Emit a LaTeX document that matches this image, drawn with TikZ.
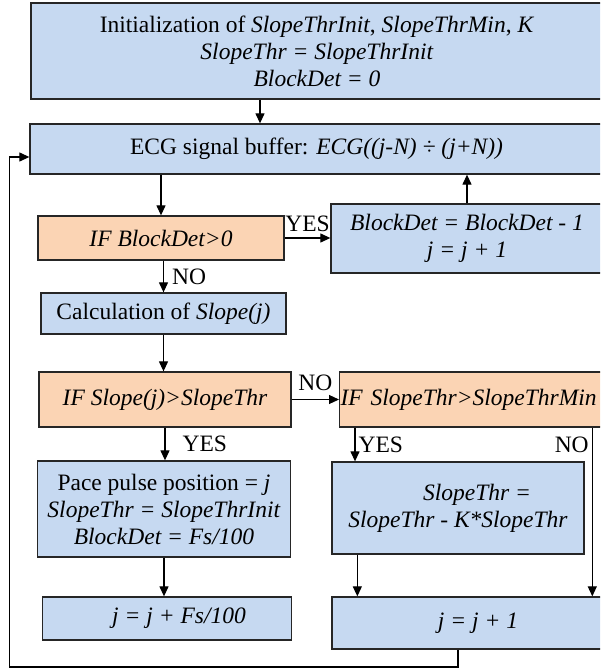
\documentclass[tikz,border=0pt]{standalone}
\usepackage{fontspec}
\setmainfont{Liberation Serif}
\usepackage{tikz}
\usetikzlibrary{arrows.meta,calc,positioning}
\definecolor{boxblue}{HTML}{C6D9F1}
\definecolor{boxpeach}{HTML}{FBD4B4}
\definecolor{edge}{HTML}{262626}
\tikzstyle{blk} = [rectangle, draw=edge, line width=1.3pt, fill=boxblue,
align=center, inner sep=1pt, font=\fontsize{23.5}{27}\selectfont]
\tikzstyle{cond} = [blk, fill=boxpeach]
\tikzstyle{arrow} = [line width=1.2pt,->]
\tikzstyle{lbl} = [font=\fontsize{23.5}{27}\selectfont, inner sep=2pt]
\tikzset{>={Triangle[length=10pt,width=9pt]}}

\begin{document}
\begin{tikzpicture}[x=1pt,y=-1pt]
            \clip (0,0) rectangle (600,669);
            \node[blk, minimum width=572, minimum height=96] (init) at (317,51)
            {Initialization of \textit{SlopeThrInit}, \textit{SlopeThrMin}, \textit{K}\\
            \textit{SlopeThr = SlopeThrInit}\\ \textit{BlockDet = 0}};
            \node[blk, minimum width=573, minimum height=50] (ecg) at (316.5,149)
            {ECG signal buffer: \textit{ECG((j-N) ÷ (j+N))}};
            \node[cond, minimum width=246, minimum height=44] (ifblk) at (161,238)
            {\textit{IF BlockDet>0}};
            \node[blk, minimum width=272, minimum height=69] (blkdec) at (467,238.5)
            {\textit{BlockDet = BlockDet - 1}\\ \textit{j = j + 1}};
            \node[blk, minimum width=245, minimum height=41] (calc) at (163.5,313.5)
            {Calculation of \textit{Slope(j)}};
            \node[cond, minimum width=252, minimum height=55] (ifslope) at (165,399.5)
            {\textit{IF Slope(j)>SlopeThr}};
            \node[cond, anchor=west, text width=266, align=left, minimum height=55] (ifthr) at (339,399.5)
            {\textit{IF SlopeThr>SlopeThrMin}};
            \node[blk, minimum width=253, minimum height=96] (pace) at (164,509)
            {Pace pulse position = \textit{j}\\ \textit{SlopeThr = SlopeThrInit}\\
            \textit{BlockDet = Fs/100}};
            \node[blk, minimum width=252, minimum height=92] (thrdec) at (458,508)
            {\hspace*{38pt}\textit{SlopeThr =}\\ \textit{SlopeThr - K*SlopeThr}};
            \node[blk, minimum width=249, minimum height=43] (jfs) at (167,618.5)
            {\hspace*{24pt}\textit{j = j + Fs/100}};
            \node[blk, minimum width=292, minimum height=52] (jinc) at (478,623)
            {\textit{j = j + 1}};
            \coordinate (loop) at (9.6,667);
            \draw [arrow] ([xshift=-57pt]init.south) -- ([xshift=-57pt]init.south |- ecg.north);
            \draw [arrow] (ecg.south -| ifblk.north) -- (ifblk.north);
            \draw [arrow] (ifblk.east) -- (ifblk.east -| blkdec.west)
            node[lbl, midway, above, yshift=4pt] {YES};
            \draw [arrow] (blkdec.north) -- (blkdec.north |- ecg.south);
            \draw [arrow] (ifblk.south -| calc.north) -- (calc.north)
            node[lbl, midway, right, xshift=6pt] {NO};
            \draw [arrow] (calc.south) -- (calc.south |- ifslope.north);
            \draw [arrow] (ifslope.east) -- (ifslope.east -| ifthr.west)
            node[lbl, midway, above, yshift=6pt] {NO};
            \draw [arrow] (ifslope.south) -- (ifslope.south |- pace.north)
            node[lbl, midway, right, xshift=15pt] {YES};
            \draw [arrow] (pace.south) -- (pace.south |- jfs.north);
            \draw [arrow] ([xshift=16pt]ifthr.south west) -- ([xshift=16pt]ifthr.south west |- thrdec.north)
            node[lbl, midway, right, xshift=1pt] {YES};
            \draw [arrow] ([xshift=-16pt]ifthr.south east) -- ([xshift=-16pt]ifthr.south east |- jinc.north)
            node[lbl, pos=0.1, left, xshift=-1pt] {NO};
            \draw [arrow] ([xshift=26pt]thrdec.south west) -- ([xshift=26pt]thrdec.south west |- jinc.north);
            \draw [arrow] ([xshift=-20pt]jinc.south) |- (loop) |- ([yshift=-8pt]ecg.west);
        \end{tikzpicture}
\end{document}
